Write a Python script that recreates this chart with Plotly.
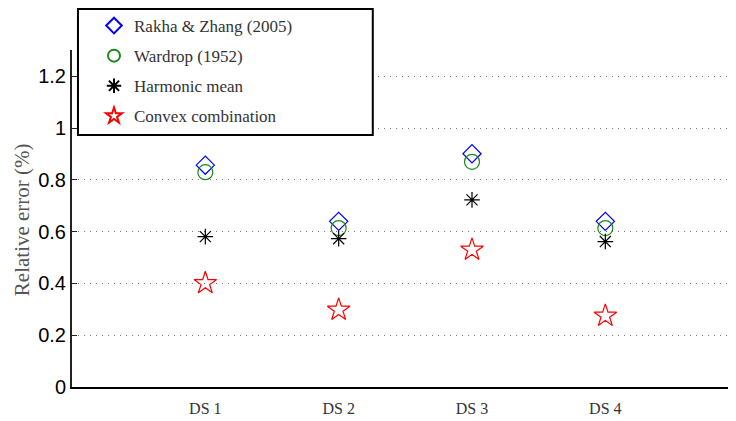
import plotly.graph_objects as go

categories = ["DS 1", "DS 2", "DS 3", "DS 4"]
x_pos = [1, 2, 3, 4]
rakha = [0.857, 0.640, 0.901, 0.640]
wardrop = [0.830, 0.614, 0.870, 0.614]
harmonic = [0.581, 0.573, 0.723, 0.562]
convex = [0.401, 0.298, 0.530, 0.275]
y_ticks = [0, 0.2, 0.4, 0.6, 0.8, 1.0, 1.2]
y_tick_text = ["0", "0.2", "0.4", "0.6", "0.8", "1", "1.2"]
y_title = "Relative error (%)"

series = [
    ("Rakha &amp; Zhang (2005)", rakha, "diamond-open", "#0000ff", 14),
    ("Wardrop (1952)", wardrop, "circle-open", "#1a8a1a", 15),
    ("Harmonic mean", harmonic, "asterisk-open", "#000000", 13),
    ("Convex combination", convex, "star-open", "#ff0000", 17),
]

SERIF = "Liberation Serif, Times New Roman, serif"

fig = go.Figure()
for i, (name, vals, sym, col, sz) in enumerate(series):
    fig.add_trace(go.Scatter(
        x=x_pos, y=vals, mode="markers", name=name, legendgroup=f"g{i}",
        marker=dict(symbol=sym, size=sz, color=col, line=dict(color=col, width=1.2)),
    ))

# legend frame
fig.add_shape(type="rect", xref="paper", yref="paper",
              x0=0.009, x1=0.453, y0=0.748, y1=1.1217,
              line=dict(color="black", width=2), fillcolor="white", layer="above")

# y-axis title
fig.add_annotation(text=y_title, xref="paper", yref="paper",
                   x=(22 - 72) / 664, y=0.495, xanchor="center", yanchor="middle",
                   textangle=-90, showarrow=False,
                   font=dict(family=SERIF, size=21, color="#555"))

# page body has an 8px margin: figure sized to fit the window
fig.update_layout(
    width=728, height=413,
    margin=dict(l=64, r=0, t=42, b=34, autoexpand=False),
    plot_bgcolor="white", paper_bgcolor="white",
    showlegend=True,
    legend=dict(
        xref="container", yref="container",
        x=86 / 728, y=1.0, xanchor="left", yanchor="top",
        bgcolor="rgba(0,0,0,0)", borderwidth=0,
        font=dict(family=SERIF, size=17, color="#333"),
        traceorder="grouped", tracegroupgap=5,
        itemsizing="constant",
    ),
    xaxis=dict(
        range=[0, 4.98], tickvals=x_pos, ticktext=categories,
        showgrid=False, zeroline=False, automargin=False,
        showline=True, linecolor="black", linewidth=2,
        ticks="", tickfont=dict(family=SERIF, size=16, color="#333"),
        ticklabelstandoff=6,
    ),
    yaxis=dict(
        range=[0, 1.302], tickvals=y_ticks, ticktext=y_tick_text,
        showgrid=True, gridcolor="#777", griddash="1px,5px", gridwidth=1,
        zeroline=False, showline=True, linecolor="#222", linewidth=2,
        automargin=False,
        ticks="inside", ticklen=5, tickcolor="#222",
        tickfont=dict(family="Liberation Sans", size=20, color="black"),
    ),
)
fig.write_html("out.html")
